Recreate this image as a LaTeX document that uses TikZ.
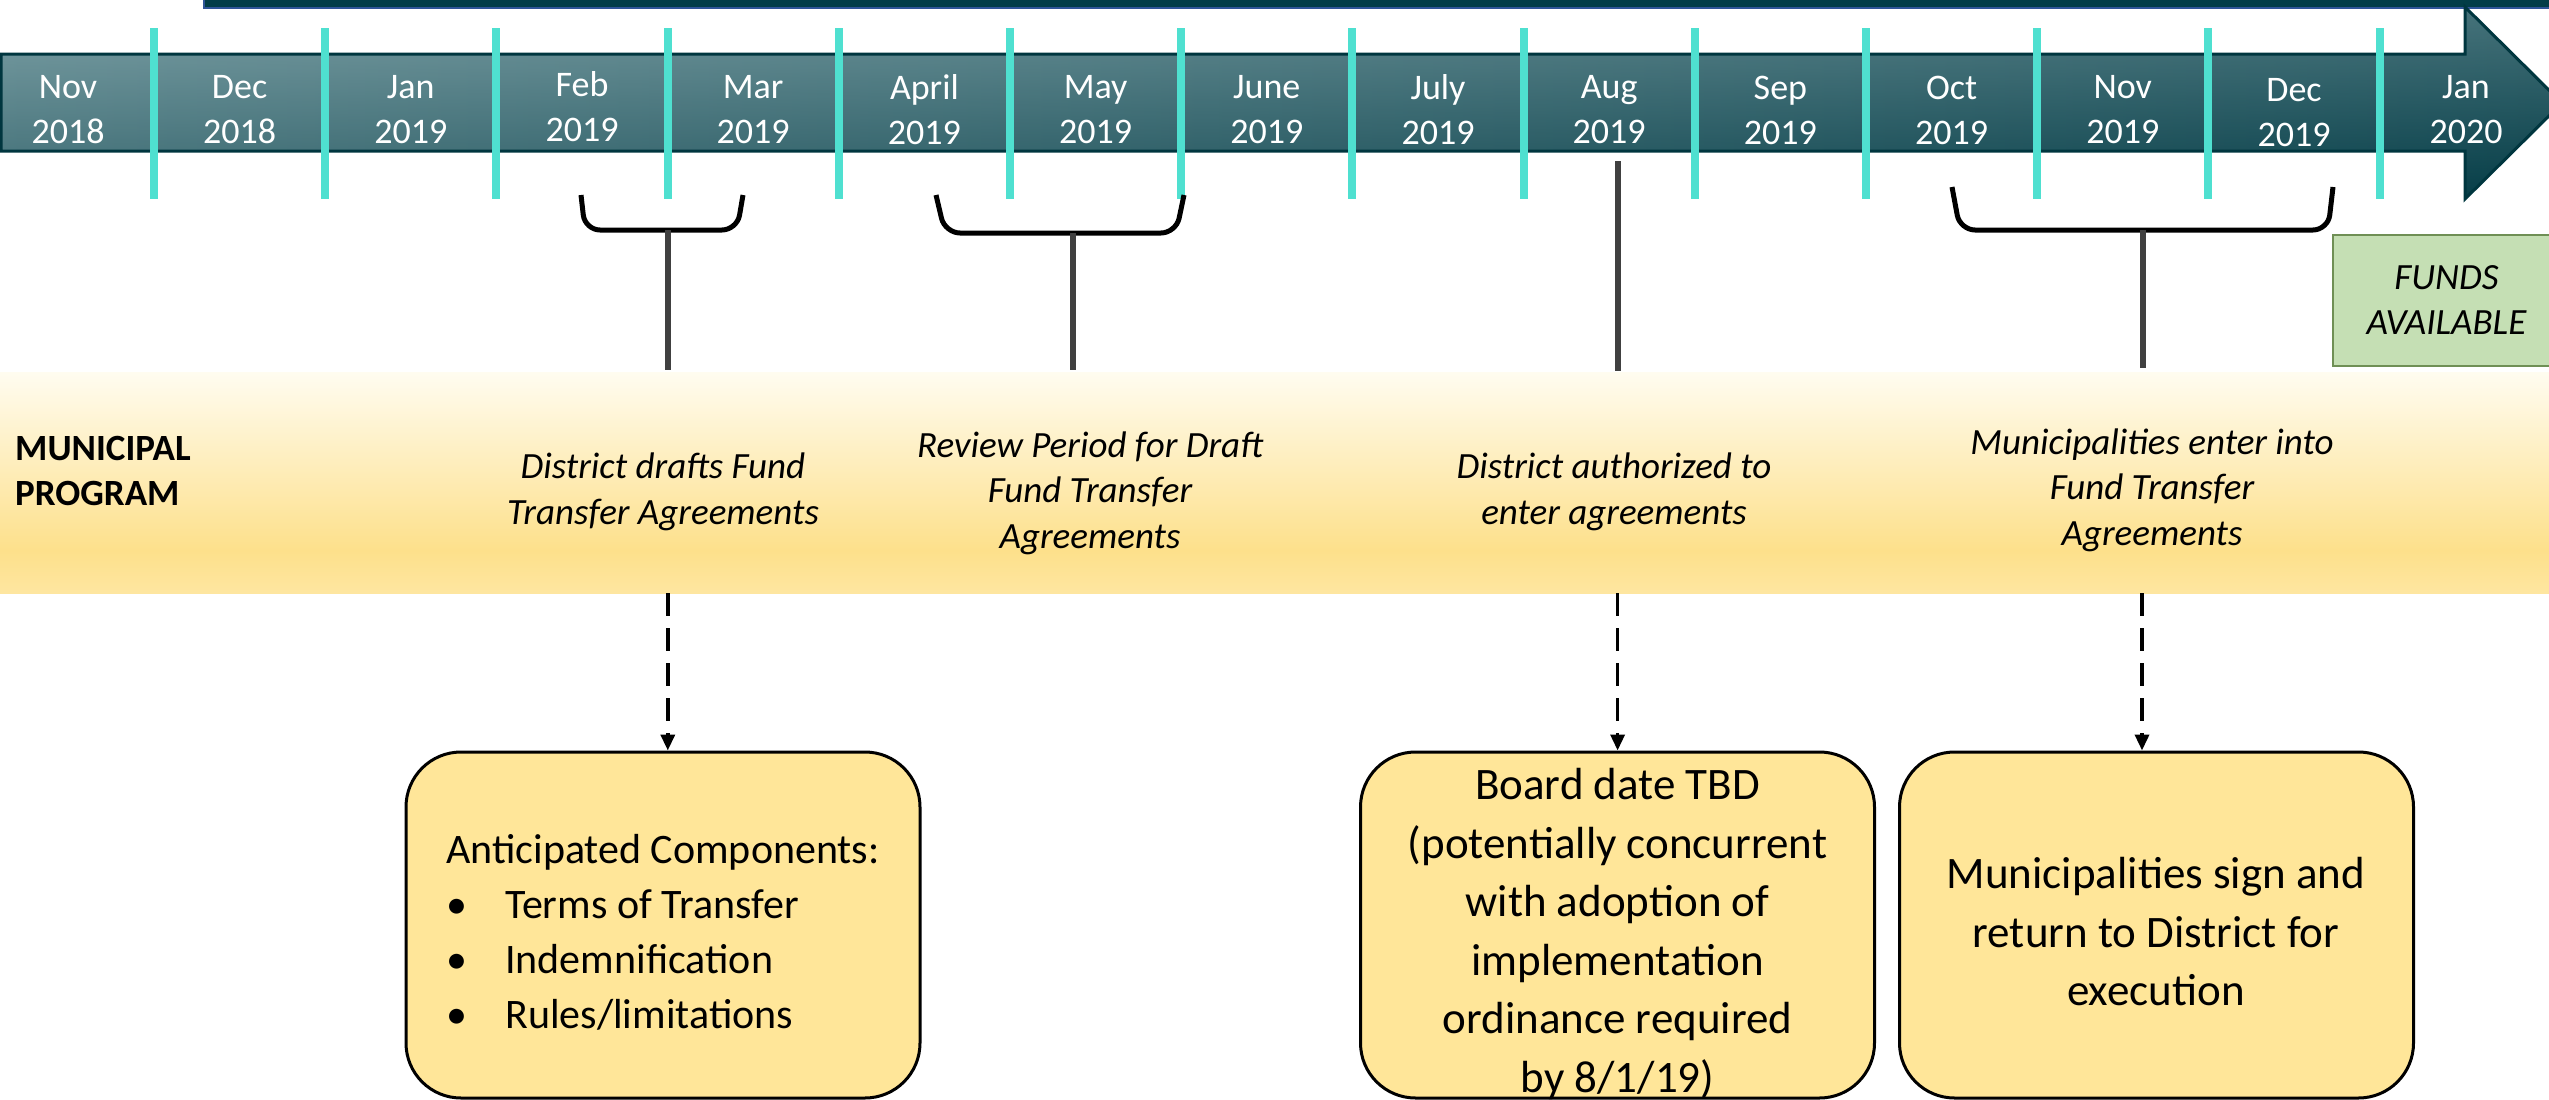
\documentclass[tikz,border=0pt]{standalone}
\usepackage{fontspec}
\setmainfont{Carlito}
\usetikzlibrary{arrows.meta}
\definecolor{arrowdark}{HTML}{00363F}
\definecolor{topbar}{HTML}{023D47}
\definecolor{topblue}{HTML}{2F5597}
\definecolor{divider}{HTML}{4FE0D0}
\definecolor{boxyellow}{HTML}{FFE699}
\definecolor{bandtop}{HTML}{FFFCF0}
\definecolor{bandmid}{HTML}{FDE08B}
\definecolor{bandbot}{HTML}{FEE6A0}
\definecolor{fundsfill}{HTML}{C5DFB4}
\definecolor{fundsedge}{HTML}{6F8F55}
\definecolor{stemgray}{HTML}{404040}
\definecolor{shL}{HTML}{6E949A}
\definecolor{shR}{HTML}{083F49}
\definecolor{shT}{HTML}{8FB0B5}
\definecolor{shB}{HTML}{013A44}
\begin{document}
\begin{tikzpicture}[x=1pt,y=-1pt,
  month/.style={font=\fontsize{36}{45}\selectfont, text=white, align=center, inner sep=0pt},
  bandtxt/.style={font=\fontsize{37}{45.5}\selectfont\itshape, align=center, inner sep=0pt},
  divline/.style={draw=divider, line width=8pt},
  brace/.style={draw=black, line width=5pt, rounded corners=15pt},
  stem/.style={draw=stemgray, line width=6pt},
  dasharrow/.style={draw=black, line width=3.5pt, dash pattern=on 23pt off 12pt, -{Triangle[width=14pt,length=16pt]}},
  boxshape/.style={draw=black, line width=3pt, fill=boxyellow, rounded corners=55pt, minimum width=514pt, minimum height=346pt, inner sep=0pt},
  boxtxt/.style={font=\fontsize{45}{58.5}\selectfont, align=center, inner sep=0pt},
  funds/.style={draw=fundsedge, line width=2.5pt, fill=fundsfill, minimum width=227pt, minimum height=131pt, inner sep=0pt, font=\fontsize{37}{45}\selectfont\itshape, align=center}
]
\useasboundingbox (0,0) rectangle (2549,1100);
% top bar
\fill[topbar] (204,-20) rectangle (2560,8);
\draw[topblue, line width=2pt] (204,-20) -- (204,8) -- (2560,8);
% timeline arrow
\shade[left color=shL, right color=shR] (1,54) -- (2465,54) -- (2465,7) -- (2562,103) -- (2465,199) -- (2465,151) -- (1,151) -- cycle;
\shade[top color=shT, bottom color=shB, opacity=0.45] (1,54) -- (2465,54) -- (2465,7) -- (2562,103) -- (2465,199) -- (2465,151) -- (1,151) -- cycle;
\draw[arrowdark, line width=3pt, line join=miter] (1,54) -- (2465,54) -- (2465,7) -- (2562,103) -- (2465,199) -- (2465,151) -- (1,151) -- cycle;
% dividers
\foreach \k in {0,...,13} \draw[divline] ({154+171.2*\k},28) -- ({154+171.2*\k},199);
% months
\foreach \mx/\my/\mt [count=\i] in {68/110/{Nov\\2018}, 239.6/110/{Dec\\2018}, 410.8/110/{Jan\\2019}, 582/107/{Feb\\2019}, 753.2/110/{Mar\\2019}, 924.4/110/{April\\2019}, 1095.6/110/{May\\2019}, 1266.8/110/{June\\2019}, 1438/110/{July\\2019}, 1609.2/110/{Aug\\2019}, 1780.4/110/{Sep\\2019}, 1951.6/110/{Oct\\2019}, 2122.8/110/{Nov\\2019}, 2294/113/{Dec\\2019}, 2466/110/{Jan\\2020}}
  \node[month] (m\i) at (\mx,\my) {\mt};
% band
\shade[top color=bandtop, bottom color=bandmid] (0,372) rectangle (2549,551);
\shade[top color=bandmid, bottom color=bandbot] (0,550) rectangle (2549,593);
% braces
\draw[brace] (581,195) -- (585,230) -- (737,230) -- (743,195);
\draw[brace] (936,195) -- (945,233) -- (1176,233) -- (1184,195);
\draw[brace] (1952,187) -- (1960,230) -- (2328,230) -- (2333,187);
% stems
\coordinate (s1a) at (667.6,230); \coordinate (s1b) at (667.6,370);
\coordinate (s2a) at (1072.7,233); \coordinate (s2b) at (1072.7,370);
\coordinate (s3a) at (1618,161); \coordinate (s3b) at (1618,371);
\coordinate (s4a) at (2143,230); \coordinate (s4b) at (2143,368);
\draw[stem] (s1a) -- (s1b);
\draw[stem] (s2a) -- (s2b);
\draw[stem] (s3a) -- (s3b);
\draw[stem] (s4a) -- (s4b);
% funds
\node[funds] (fa) at (2446.5,300.5) {FUNDS\\AVAILABLE};
% band texts
\node[anchor=west, font=\fontsize{37}{45}\selectfont\bfseries, align=left, inner sep=0pt] (mp) at (15,470.5) {MUNICIPAL\\PROGRAM};
\node[bandtxt] (t1) at (663,492) {District drafts Fund\\Transfer Agreements};
\node[bandtxt] (t2) at (1090,493) {Review Period for Draft\\Fund Transfer\\Agreements};
\node[bandtxt] (t3) at (1614,492) {District authorized to\\enter agreements};
\node[bandtxt] (t4) at (2152,490) {Municipalities enter into\\Fund Transfer\\Agreements};
% boxes
\node[boxshape] (box1) at (663,925) {};
\node[boxshape] (box2) at (1617.5,925) {};
\node[boxshape] (box3) at (2156.5,925) {};
\node[boxtxt, align=left, font=\fontsize{42}{55}\selectfont] (box1t) at (663,932) {Anticipated Components:\\\makebox[59pt][l]{\textbullet}Terms of Transfer\\\makebox[59pt][l]{\textbullet}Indemnification\\\makebox[59pt][l]{\textbullet}Rules/limitations};
\node[boxtxt] (box2t) at (1617.5,934) {Board date TBD\\(potentially concurrent\\with adoption of\\implementation\\ordinance required\\by 8/1/19)};
\node[boxtxt] (box3t) at (2156,932) {Municipalities sign and\\return to District for\\execution};
% dashed arrows
\coordinate (d1) at (667.8,593);
\coordinate (d2) at (1617.6,593);
\coordinate (d3) at (2142,593);
\draw[dasharrow] (d1) -- (d1 |- box1.north);
\draw[dasharrow] (d2) -- (d2 |- box2.north);
\draw[dasharrow] (d3) -- (d3 |- box3.north);
\end{tikzpicture}
\end{document}
